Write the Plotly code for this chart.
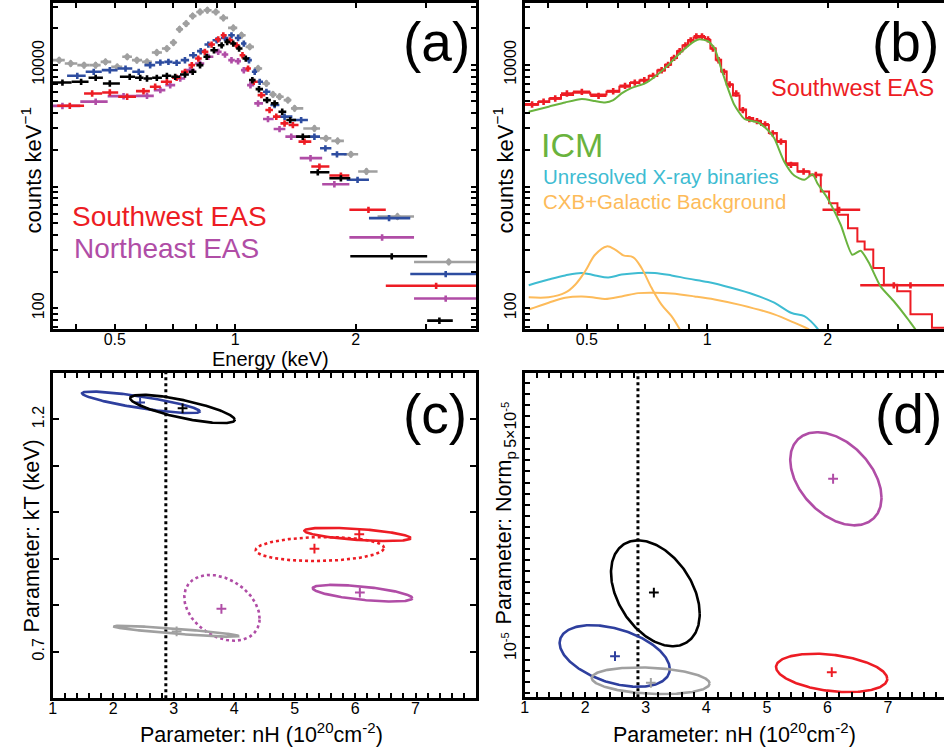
import numpy as np
import plotly.graph_objects as go

FONT = "Liberation Sans, Arial, Helvetica, sans-serif"
W, H = 944, 751

# ---------------- Panel (a): spectra of five regions ----------------
sw_E = [0.386, 0.439, 0.486, 0.537, 0.59, 0.631, 0.675, 0.714, 0.749, 0.779, 0.809, 0.840, 0.873, 0.907, 0.934,
        0.970, 1.008, 1.043, 1.077, 1.113, 1.163, 1.219, 1.267, 1.329, 1.394, 1.49, 1.624, 1.838, 2.154, 3.18]
sw_edges = [0.359, 0.419, 0.465, 0.510, 0.565, 0.612, 0.652, 0.695, 0.732, 0.764, 0.794, 0.825, 0.857, 0.890, 0.920,
            0.952, 0.989, 1.026, 1.060, 1.095, 1.138, 1.19, 1.243, 1.298, 1.36, 1.44, 1.55, 1.72, 1.93, 2.38, 4.0]
sw_counts = [4610, 5820, 5930, 5470, 6080, 6610, 7260, 7820, 8770, 9940, 11270, 12780, 14690, 16220, 17500,
             15920, 14490, 12000, 9330, 7260, 5640, 4250, 3750, 3300, 3200, 2340, 1460, 1230, 644, 153]

ne_E = [0.37, 0.448, 0.526, 0.602, 0.650, 0.688, 0.729, 0.771, 0.817, 0.857, 0.907, 0.943, 0.979, 1.017, 1.051,
        1.092, 1.141, 1.208, 1.291, 1.381, 1.543, 1.770, 2.33, 3.36]
ne_edges = [0.35, 0.41, 0.48, 0.565, 0.626, 0.669, 0.708, 0.75, 0.794, 0.837, 0.882, 0.925, 0.961, 0.998, 1.034,
            1.071, 1.116, 1.174, 1.248, 1.335, 1.45, 1.65, 1.93, 2.80, 4.0]
ne_counts = [4600, 4980, 5530, 5560, 6200, 6810, 7730, 9040, 10250, 11640, 12780, 12150, 10920, 10720, 9040,
             6810, 4820, 3590, 2970, 2570, 1710, 1045, 382, 120]

bk_E = [0.370, 0.412, 0.448, 0.486, 0.545, 0.579, 0.602, 0.637, 0.675, 0.708, 0.749, 0.783, 0.817, 0.849, 0.885,
        0.925, 0.955, 0.989, 1.023, 1.063, 1.104, 1.147, 1.201, 1.255, 1.311, 1.373, 1.476, 1.609, 1.838, 2.463, 3.24]
bk_edges = [0.35, 0.39, 0.43, 0.467, 0.515, 0.562, 0.59, 0.62, 0.656, 0.692, 0.728, 0.766, 0.80, 0.833, 0.867,
            0.905, 0.94, 0.972, 1.006, 1.043, 1.083, 1.125, 1.174, 1.228, 1.283, 1.342, 1.42, 1.54, 1.72, 1.94, 3.02, 3.50]
bk_counts = [7160, 7260, 7820, 7030, 7980, 7820, 7730, 7820, 8120, 7980, 8330, 8770, 9940, 11640, 13190,
             14490, 15440, 14970, 13610, 11270, 7480, 6310, 5130, 4820, 4120, 3520, 2570, 1310, 1170, 267, 79]

bl_E = [0.403, 0.443, 0.486, 0.532, 0.574, 0.613, 0.650, 0.681, 0.714, 0.749, 0.786, 0.820, 0.857, 0.899, 0.943,
        0.979, 1.017, 1.051, 1.083, 1.119, 1.152, 1.197, 1.255, 1.329, 1.462, 1.578, 1.681, 1.797, 2.023, 2.425, 3.36]
bl_edges = [0.38, 0.423, 0.464, 0.508, 0.553, 0.593, 0.631, 0.665, 0.697, 0.731, 0.767, 0.803, 0.838, 0.878, 0.921,
            0.961, 0.998, 1.034, 1.067, 1.101, 1.135, 1.174, 1.225, 1.29, 1.39, 1.52, 1.63, 1.74, 1.90, 2.16, 2.74, 4.0]
bl_counts = [8120, 8770, 9040, 9330, 8770, 9940, 10450, 10580, 10390, 10920, 12000, 12950, 14690, 15920, 16630,
             17500, 16630, 14970, 10920, 8770, 7260, 6010, 4670, 3750, 3520, 2570, 2060, 1840, 1135, 550, 191]

gr_E = [0.363, 0.388, 0.419, 0.448, 0.474, 0.507, 0.537, 0.568, 0.602, 0.637, 0.675, 0.701, 0.726, 0.754, 0.783,
        0.817, 0.852, 0.895, 0.934, 0.989, 1.037, 1.088, 1.141, 1.197, 1.243, 1.291, 1.355, 1.408, 1.578, 1.687,
        1.804, 1.947, 2.129, 2.545, 3.42]
gr_edges = [0.35, 0.375, 0.403, 0.433, 0.461, 0.49, 0.522, 0.552, 0.585, 0.619, 0.656, 0.688, 0.713, 0.74, 0.768,
            0.80, 0.834, 0.873, 0.914, 0.96, 1.012, 1.062, 1.114, 1.168, 1.22, 1.267, 1.322, 1.38, 1.48, 1.63,
            1.74, 1.87, 2.03, 2.27, 2.80, 4.0]
gr_counts = [10920, 10250, 9940, 9940, 10580, 9630, 11640, 10920, 10580, 12620, 13610, 15240, 19600, 21800, 25200,
             27200, 28100, 27200, 24300, 20100, 17500, 14050, 9330, 7030, 5710, 5470, 5130, 4390, 3000, 2490,
             2370, 1840, 1330, 567, 240]

# ---------------- Panel (b): Southwest EAS with model components ----------------
b_E = [0.365, 0.390, 0.417, 0.446, 0.486, 0.535, 0.582, 0.623, 0.659, 0.696, 0.732, 0.769, 0.798, 0.826, 0.853,
       0.882, 0.909, 0.939, 0.970, 1.004, 1.033, 1.067, 1.100, 1.137, 1.181, 1.227, 1.274, 1.331, 1.394, 1.457,
       1.528, 1.618, 1.740, 1.867, 2.134, 2.924, 3.218]
b_edges = [0.35, 0.378, 0.403, 0.431, 0.462, 0.51, 0.56, 0.603, 0.641, 0.677, 0.714, 0.75, 0.784, 0.812, 0.84,
           0.867, 0.895, 0.924, 0.954, 0.987, 1.018, 1.05, 1.083, 1.118, 1.159, 1.204, 1.25, 1.302, 1.362, 1.425,
           1.492, 1.572, 1.68, 1.80, 1.94, 2.41, 3.065, 4.0]
b_counts = [4730, 4980, 5300, 5820, 6010, 5570, 6080, 6730, 7160, 7480, 8120, 9040, 10000, 11410, 12950,
            14490, 15920, 17180, 17180, 16230, 13610, 10920, 8770, 6900, 5820, 4250, 3590, 3450, 3240, 2740,
            2340, 1510, 1330, 1246, 644, 154.5, 154.5]

model_edges = [0.35, 0.378, 0.403, 0.431, 0.462, 0.51, 0.56, 0.603, 0.641, 0.677, 0.714, 0.75, 0.784, 0.812, 0.84,
               0.867, 0.895, 0.924, 0.954, 0.987, 1.018, 1.05, 1.083, 1.118, 1.159, 1.204, 1.25, 1.302, 1.362, 1.425,
               1.492, 1.572, 1.68, 1.80, 1.921, 2.015, 2.114, 2.247, 2.371, 2.472, 2.598, 2.761, 2.981, 3.218,
               3.641, 4.0]
model_counts = [4700, 4950, 5250, 5650, 5900, 5700, 6000, 6600, 7100, 7450, 8100, 9000, 10000, 11400, 12900,
                14400, 15900, 16800, 16900, 16000, 13600, 11000, 8800, 6900, 5600, 4300, 3650, 3450, 3200, 2750,
                2350, 1550, 1330, 1246, 910, 730, 586, 455, 354, 303, 214, 156, 138, 89, 69]

icm_E = [0.358, 0.4015, 0.4416, 0.4859, 0.5244, 0.5554, 0.5823, 0.6109, 0.6471, 0.6985, 0.7396, 0.7984, 0.8617,
         0.930, 0.957, 1.004, 1.043, 1.083, 1.126, 1.169, 1.239, 1.337, 1.416, 1.470, 1.557, 1.649, 1.747, 1.832,
         1.885, 1.996, 2.154, 2.303, 2.416, 2.534, 2.709, 2.924, 3.157, 3.311]
icm_counts = [4120, 4530, 4910, 5240, 5040, 4910, 5130, 5820, 6470, 7030, 7980, 9940, 12780,
              15630, 16230, 15630, 13610, 9330, 6400, 4670, 3590, 3370, 2910, 2490, 1600, 1230, 1135, 1260,
              1060, 802, 485, 275, 297, 236, 151, 114, 83, 67]

xrb_E = [0.358, 0.4015, 0.4416, 0.4859, 0.5244, 0.566, 0.6109, 0.672, 0.7396, 0.814, 0.895, 1.004, 1.147,
         1.311, 1.470, 1.618, 1.747, 1.814, 1.892]
xrb_counts = [154.5, 172, 186, 195, 186, 179, 189, 195, 195, 186, 175, 164, 147, 129, 111, 91.7, 86, 78, 67]

gal_E = [0.358, 0.4015, 0.4416, 0.4677, 0.4953, 0.5244, 0.5607, 0.5884, 0.6170, 0.6533, 0.6851, 0.7256,
         0.7685, 0.814, 0.8534]
gal_counts = [123, 123, 134, 156, 201, 275, 322, 303, 272, 262, 214, 147, 107, 86, 67]

cxb_E = [0.358, 0.4015, 0.4416, 0.4859, 0.5244, 0.5554, 0.6109, 0.672, 0.7396, 0.814, 0.930, 1.043, 1.215,
         1.470, 1.649, 1.797]
cxb_counts = [97.5, 111, 122, 125, 122, 119, 125, 133, 134, 132, 125, 118, 106, 89, 76, 67]

# ---------------- Panels (c), (d): confidence contours ----------------
nh_galactic = 2.87
reg_colors = ["#2E3F9E", "#000000", "#ED1C24", "#ED1C24", "#B04DA6", "#B04DA6", "#A0A0A0"]
c_dash = ["solid", "solid", "solid", "dot", "solid", "dot", "solid"]
c_best_nh = [2.444, 3.147, 6.069, 5.328, 6.079, 3.789, 3.048]
c_best_kT = [1.2365, 1.224, 0.9526, 0.9217, 0.8273, 0.7923, 0.7436]
c_cx = [2.458, 3.145, 6.04, 5.418, 6.124, 3.798, 3.043]
c_cy = [1.2368, 1.2225, 0.9525, 0.921, 0.8259, 0.7944, 0.744]
c_ax = [0.975, 0.865, 0.879, 1.062, 0.824, 0.623, 1.038]
c_ay = [0.0233, 0.0305, 0.0143, 0.0258, 0.0179, 0.0708, 0.0118]
c_phi = [147, 140, 124, 85, 127, 109, 153]

d_colors = ["#B04DA6", "#000000", "#2E3F9E", "#A0A0A0", "#ED1C24"]
d_best_nh = [6.095, 3.133, 2.491, 3.083, 6.073]
d_best_norm = [4.068e-5, 2.011e-5, 0.861e-5, 0.379e-5, 0.572e-5]
d_cx = [6.141, 3.158, 2.486, 3.081, 6.071]
d_cy = [4.068e-5, 1.998e-5, 0.864e-5, 0.416e-5, 0.558e-5]
d_ax = [0.754, 0.733, 0.910, 0.974, 0.919]
d_ay = [0.842e-5, 0.957e-5, 0.557e-5, 0.241e-5, 0.347e-5]
d_phi = [114, 113, 115, 102, 108]

# tick positions / labels
e_ticks = [0.4, 0.5, 0.6, 0.7, 0.8, 0.9, 1, 2, 3, 4]
e_labels = ["", "0.5", "", "", "", "", "1", "2", "", ""]
cnt_ticks = [m * 10 ** k for k in range(1, 5) for m in range(1, 10)]
cnt_labels = {100: "100", 10000: "10000"}
nh_ticks = [round(1 + 0.2 * i, 1) for i in range(36)]
nh_labels = {1.0: "1", 2.0: "2", 3.0: "3", 4.0: "4", 5.0: "5", 6.0: "6", 7.0: "7"}
kT_ticks = [0.7, 0.8, 0.9, 1.0, 1.1, 1.2]
kT_labels = ["0.7", "", "", "", "", "1.2"]
norm_ticks = [round(0.2 * i, 1) * 1e-5 for i in range(1, 30)]
norm_labels = {1.0: "10<sup>-5</sup>", 5.0: "5×10<sup>-5</sup>"}

COL = dict(sw="#ED1C24", ne="#B04DA6", bk="#000000", bl="#2E4DA0", gr="#A0A0A0",
           icm="#6AB33E", xrb="#3EBCD2", cxb="#FDBB5A")


def xerr(centers, edges):
    c = np.array(centers, float)
    e = np.array(edges, float)
    return e[1:] - c, c - e[:-1]


def ellipse(cx, cy, ax, ay, phi_deg, n=240):
    t = np.linspace(0, 2 * np.pi, n)
    return cx + ax * np.cos(t), cy + ay * np.cos(t - np.radians(phi_deg))


fig = go.Figure()


def spec_trace(E, edges, counts, color, xa, ya, symbol="circle", size=3, ypct=6):
    plus, minus = xerr(E, edges)
    return go.Scatter(
        x=E, y=counts, mode="markers", xaxis=xa, yaxis=ya, showlegend=False,
        marker=dict(color=color, size=size, symbol=symbol),
        error_x=dict(type="data", symmetric=False, array=plus, arrayminus=minus,
                     color=color, thickness=2.6, width=0),
        error_y=dict(type="percent", value=ypct, color=color, thickness=2.6, width=0),
    )


fig.add_trace(spec_trace(gr_E, gr_edges, gr_counts, COL["gr"], "x", "y", symbol="diamond", size=6))
fig.add_trace(spec_trace(bl_E, bl_edges, bl_counts, COL["bl"], "x", "y"))
fig.add_trace(spec_trace(ne_E, ne_edges, ne_counts, COL["ne"], "x", "y"))
fig.add_trace(spec_trace(sw_E, sw_edges, sw_counts, COL["sw"], "x", "y"))
fig.add_trace(spec_trace(bk_E, bk_edges, bk_counts, COL["bk"], "x", "y"))

# panel (b)
fig.add_trace(go.Scatter(x=model_edges, y=model_counts + [model_counts[-1]], mode="lines", line_shape="hv",
                         line=dict(color=COL["sw"], width=2), xaxis="x2", yaxis="y2", showlegend=False))
fig.add_trace(spec_trace(b_E, b_edges, b_counts, COL["sw"], "x2", "y2"))
fig.add_trace(go.Scatter(x=xrb_E, y=xrb_counts, mode="lines", line=dict(color=COL["xrb"], width=2, shape="spline"),
                         xaxis="x2", yaxis="y2", showlegend=False))
fig.add_trace(go.Scatter(x=gal_E, y=gal_counts, mode="lines", line=dict(color=COL["cxb"], width=2, shape="spline"),
                         xaxis="x2", yaxis="y2", showlegend=False))
fig.add_trace(go.Scatter(x=cxb_E, y=cxb_counts, mode="lines", line=dict(color=COL["cxb"], width=2, shape="spline"),
                         xaxis="x2", yaxis="y2", showlegend=False))
fig.add_trace(go.Scatter(x=icm_E, y=icm_counts, mode="lines", line=dict(color=COL["icm"], width=2, shape="spline",
                                                                        smoothing=0.6),
                         xaxis="x2", yaxis="y2", showlegend=False))

# panel (c)
fig.add_trace(go.Scatter(x=[nh_galactic, nh_galactic], y=[0.6, 1.3], mode="lines",
                         line=dict(color="black", width=3, dash="dot"), xaxis="x3", yaxis="y3", showlegend=False))
for i in range(len(c_cx)):
    ex, ey = ellipse(c_cx[i], c_cy[i], c_ax[i], c_ay[i], c_phi[i])
    fig.add_trace(go.Scatter(x=ex, y=ey, mode="lines", line=dict(color=reg_colors[i], width=2.6, dash=c_dash[i]),
                             xaxis="x3", yaxis="y3", showlegend=False))
    fig.add_trace(go.Scatter(x=[c_best_nh[i]], y=[c_best_kT[i]], mode="markers",
                             marker=dict(symbol="cross-thin", size=7, line=dict(color=reg_colors[i], width=2)),
                             xaxis="x3", yaxis="y3", showlegend=False))

# panel (d)
fig.add_trace(go.Scatter(x=[nh_galactic, nh_galactic], y=[0.12e-5, 5.98e-5], mode="lines",
                         line=dict(color="black", width=3, dash="dot"), xaxis="x4", yaxis="y4", showlegend=False))
for i in range(len(d_cx)):
    ex, ey = ellipse(d_cx[i], d_cy[i], d_ax[i], d_ay[i], d_phi[i])
    fig.add_trace(go.Scatter(x=ex, y=ey, mode="lines", line=dict(color=d_colors[i], width=2.6),
                             xaxis="x4", yaxis="y4", showlegend=False))
    fig.add_trace(go.Scatter(x=[d_best_nh[i]], y=[d_best_norm[i]], mode="markers",
                             marker=dict(symbol="cross-thin", size=7, line=dict(color=d_colors[i], width=2)),
                             xaxis="x4", yaxis="y4", showlegend=False))


def px(x):
    return x / W


def py(y):
    return 1 - y / H


AX = dict(showline=True, linecolor="black", linewidth=2.6, mirror="allticks", ticks="inside",
          ticklen=5, tickwidth=2.2, tickcolor="black", showgrid=False, zeroline=False,
          tickfont=dict(family=FONT, size=16, color="black"), tickmode="array")
XLAB = dict(ticklabelstandoff=-6)


def log_x(domain, rng_hi):
    return dict(AX, **XLAB, type="log", domain=domain, range=[np.log10(0.35), rng_hi],
                tickvals=e_ticks, ticktext=e_labels)


def log_y(domain, anchor, mirror=True):
    d = dict(AX, type="log", domain=domain, range=[1.828, 4.508], anchor=anchor,
             tickvals=cnt_ticks, ticktext=[cnt_labels.get(v, "") for v in cnt_ticks], tickangle=-90)
    if not mirror:
        d["mirror"] = False
    return d


dom_left = [px(49), px(474)]
dom_right = [px(523), 1.0]
dom_top = [py(328), py(1)]
dom_bot_c = [py(698), py(372)]
dom_bot_d = [py(697), py(372)]

nh_text = [nh_labels.get(v, "") for v in nh_ticks]
norm_text = [norm_labels.get(round(v * 1e5, 1), "") for v in norm_ticks]

layout = dict(
    width=W, height=H, margin=dict(l=0, r=0, t=0, b=0),
    paper_bgcolor="white", plot_bgcolor="white", showlegend=False,
    font=dict(family=FONT, color="black"),
    xaxis=dict(log_x(dom_left, np.log10(4.0)), anchor="y"),
    yaxis=log_y(dom_top, "x"),
    xaxis2=dict(log_x(dom_right, np.log10(0.35) + 421 / 402), anchor="y2"),
    yaxis2=log_y(dom_top, "x2", mirror=False),
    xaxis3=dict(AX, **XLAB, domain=dom_left, range=[1, 8], anchor="y3", tickvals=nh_ticks, ticktext=nh_text),
    yaxis3=dict(AX, domain=dom_bot_c, range=[0.6, 1.3], anchor="x3", ticklen=6,
                tickvals=kT_ticks, ticktext=kT_labels, tickangle=-90),
    xaxis4=dict(AX, **XLAB, domain=dom_right, range=[1, 1 + 421 / 60.77], anchor="y4",
                tickvals=nh_ticks, ticktext=nh_text),
    yaxis4=dict(AX, domain=dom_bot_d, range=[0.12e-5, 5.98e-5], anchor="x4", mirror=False,
                tickvals=norm_ticks, ticktext=norm_text, tickangle=-90),
)
fig.update_layout(**layout)

ann = []


def note(text, x, y, size, color="black", xanchor="center", angle=0):
    ann.append(dict(text=text, x=px(x), y=py(y), xref="paper", yref="paper", showarrow=False,
                    xanchor=xanchor, yanchor="middle", textangle=angle,
                    font=dict(family=FONT, size=size, color=color)))


note("(a)", 470, 40, 55, xanchor="right")
note("(b)", 941, 40, 55, xanchor="right")
note("(c)", 467, 413, 55, xanchor="right")
note("(d)", 944, 413, 55, xanchor="right")
note("Southwest EAS", 66, 215, 28, COL["sw"], xanchor="left")
note("Northeast EAS", 68, 247, 28, COL["ne"], xanchor="left")
note("Southwest EAS", 936, 86, 23.5, COL["sw"], xanchor="right")
note("ICM", 537, 143, 34, COL["icm"], xanchor="left")
note("Unresolved X-ray binaries", 539, 175, 20.5, COL["xrb"], xanchor="left")
note("CXB+Galactic Background", 539, 200, 20.5, COL["cxb"], xanchor="left")
note("Energy (keV)", 268, 358, 20)
note("counts keV<sup>−1</sup>", 27, 169, 22, angle=-90)
note("counts keV<sup>−1</sup>", 501, 169, 22, angle=-90)
note("Parameter: kT (keV)", 28, 535, 21.5, angle=-90)
note("Parameter: nH (10<sup>20</sup>cm<sup>-2</sup>)", 259, 733, 21.5)
note("Parameter: nH (10<sup>20</sup>cm<sup>-2</sup>)", 734, 733, 21.5)
note("Parameter: Norm<sub>p</sub>", 504, 537, 21.5, angle=-90)
fig.update_layout(annotations=ann)

fig.write_html("out.html", config={"displayModeBar": False},
               post_script="document.body.style.margin='0';document.body.style.overflow='hidden';")
